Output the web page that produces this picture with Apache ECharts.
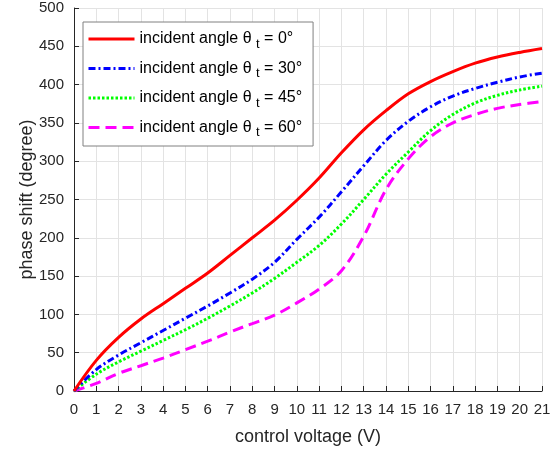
<!DOCTYPE html>
<html>
<head>
<meta charset="utf-8">
<script src="https://cdn.jsdelivr.net/npm/echarts@6/dist/echarts.min.js"></script>
<style>
  html, body { margin: 0; padding: 0; background: #fff; }
  #chart { width: 555px; height: 451px; }
</style>
</head>
<body>
<div id="chart"></div>
<script>
(function() {
  // control voltage (V)
  const voltage = [0, 1, 2, 3, 4, 5, 6, 7, 8, 9, 10, 11, 12, 13, 14, 15, 16, 17, 18, 19, 20, 21];
  // incident angles (degree)
  const angles = [0, 30, 45, 60];
  // phase shift (degree) per angle
  const shift0 = [0, 40, 70, 94, 114, 134, 154, 177, 200, 223, 249, 278, 311, 341, 366, 388, 404, 417, 428, 436, 442, 447];
  const shift30 = [0, 28, 47, 63, 79, 95, 111, 128, 146, 168, 198, 227, 260, 294, 327, 352, 371, 385, 395, 403, 410, 415];
  const shift45 = [0, 22, 38, 52, 66, 80, 95, 111, 128, 147, 168, 190, 218, 250, 283, 312, 340, 361, 376, 386, 393, 398];
  const shift60 = [0, 10, 23, 33, 43, 54, 65, 77, 88, 99, 115, 133, 157, 202, 263, 303, 332, 350, 361, 369, 374, 378];

  const colors = ["#ff0000", "#0000ff", "#00ff00", "#ff00ff"];
  const dashes = ["solid", [7, 3, 2, 3], [2.5, 2], [11, 6]];
  const allShift = [shift0, shift30, shift45, shift60];

  var myChart = echarts.init(document.getElementById("chart"));

  const font = "'Liberation Sans', Arial, Helvetica, sans-serif";

  let series = angles.map(function(a, i) {
    return {
      name: "incident angle θt = " + a + "°",
      type: "line",
      data: voltage.map(function(v, k) { return [v, allShift[i][k]]; }),
      smooth: 0.35,
      symbol: "none",
      color: colors[i],
      lineStyle: { width: 3, color: colors[i], type: dashes[i], cap: "butt" },
      z: 10 - i,
    };
  });

  let options = {
    animation: false,
    textStyle: { fontFamily: font },
    grid: { left: 74, right: 13, top: 8, bottom: 59 },
    legend: {
      orient: "vertical",
      left: 83,
      top: 22,
      itemWidth: 46,
      itemHeight: 14,
      itemGap: 10,
      padding: [9, 11, 7, 4],
      backgroundColor: "#fff",
      borderColor: "#808080",
      borderWidth: 1,
      borderRadius: 0,
      itemStyle: { opacity: 0 },
      lineStyle: { width: 3 },
      formatter: function(name) {
        let a = name.split("= ")[1];
        return "{a|incident angle θ }{s|t}{a| = " + a + "}";
      },
      textStyle: {
        color: "#000",
        fontSize: 16,
        rich: {
          a: { fontSize: 16, fontFamily: font, color: "#000" },
          s: { fontSize: 13, fontFamily: font, color: "#000", padding: [10, 0, 0, 0] },
        },
      },
    },
    xAxis: {
      type: "value",
      min: 0,
      max: 21,
      interval: 1,
      name: "control voltage (V)",
      nameLocation: "middle",
      nameGap: 37,
      nameTextStyle: { fontSize: 18, color: "#262626", fontFamily: font },
      axisLine: { onZero: false, lineStyle: { color: "#262626", width: 1 } },
      axisTick: { inside: true, length: 5, lineStyle: { color: "#262626" } },
      axisLabel: { fontSize: 15, color: "#262626", margin: 11, fontFamily: font },
      splitLine: { show: true, lineStyle: { color: "#e3e3e3", width: 1 } },
    },
    yAxis: {
      type: "value",
      min: 0,
      max: 500,
      interval: 50,
      name: "phase shift (degree)",
      nameLocation: "middle",
      nameGap: 38,
      nameMoveOverlap: false,
      nameTextStyle: { fontSize: 18, color: "#262626", fontFamily: font },
      axisLine: { show: true, onZero: false, lineStyle: { color: "#262626", width: 1 } },
      axisTick: { show: true, inside: true, length: 5, lineStyle: { color: "#262626" } },
      axisLabel: { fontSize: 15, color: "#262626", margin: 10, fontFamily: font },
      splitLine: { show: true, lineStyle: { color: "#e3e3e3", width: 1 } },
    },
    series: series,
  };
  myChart.setOption(options);
  window.addEventListener("resize", function() {
    myChart.resize();
  });
})();
</script>
</body>
</html>
